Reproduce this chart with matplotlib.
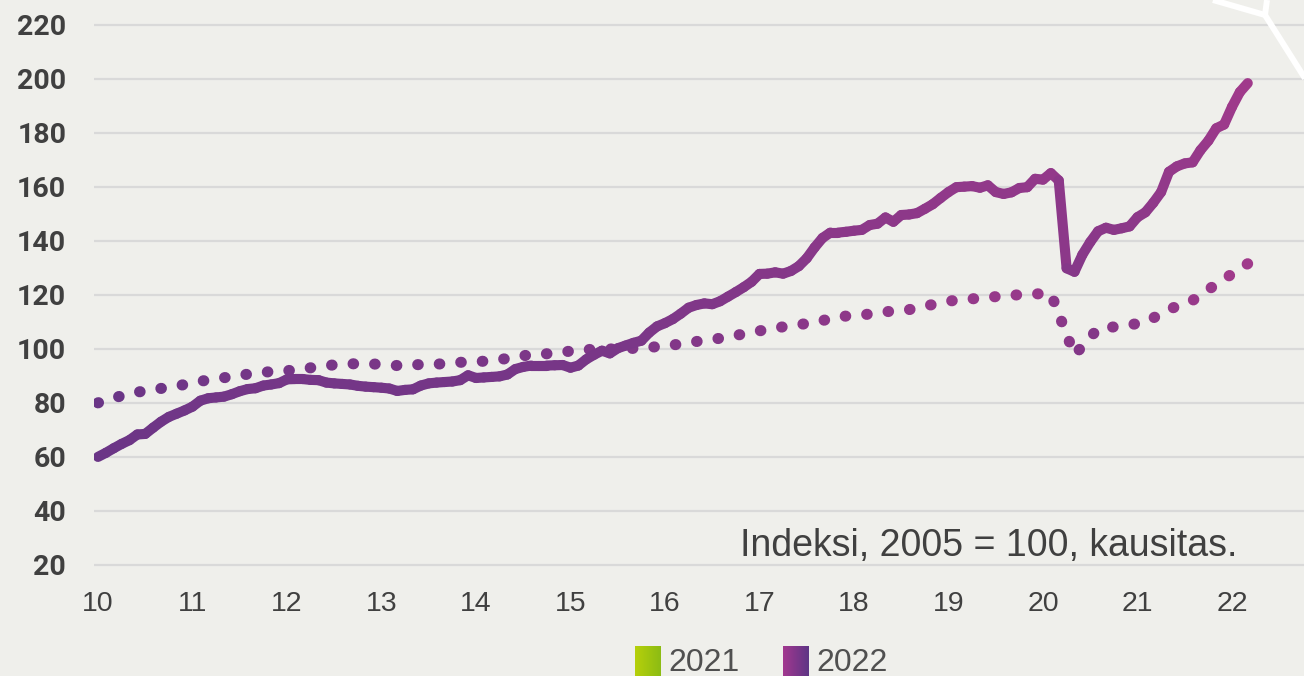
import numpy as np
import matplotlib.pyplot as plt
from matplotlib.collections import LineCollection
from matplotlib.colors import to_rgb
from matplotlib.lines import Line2D

# kuukausittainen indeksi (yhtenäinen viiva), tammikuu 2010 -> maaliskuu 2022
monthly_index = [
    60.0, 61.5, 63.2, 64.8, 66.2, 68.3, 68.5, 70.8, 73.0, 74.8, 76.0, 77.2,
    78.6, 80.8, 81.7, 82.0, 82.3, 83.2, 84.3, 85.1, 85.4, 86.4, 86.8, 87.3,
    88.7, 88.8, 88.8, 88.5, 88.4, 87.5, 87.2, 87.0, 86.8, 86.3, 86.0, 85.8,
    85.6, 85.3, 84.4, 84.8, 85.0, 86.4, 87.2, 87.5, 87.7, 87.9, 88.4, 90.2,
    89.2, 89.4, 89.6, 89.8, 90.5, 92.5, 93.3, 93.8, 93.8, 93.8, 93.9, 94.0,
    93.0, 93.8, 96.1, 97.8, 99.3, 98.3, 100.2, 101.2, 102.2, 103.0, 106.0, 108.3,
    109.5, 111.0, 113.0, 115.2, 116.2, 116.8, 116.5, 117.6, 119.3, 121.0, 122.8, 124.8,
    127.7, 127.8, 128.3, 127.8, 128.8, 130.6, 133.5, 137.5, 141.0, 143.0, 143.0, 143.3,
    143.7, 144.0, 145.8, 146.3, 148.6, 147.0, 149.5, 149.7, 150.2, 151.8, 153.5, 155.8,
    158.0, 159.8, 160.0, 160.2, 159.6, 160.5, 158.0, 157.3, 157.9, 159.5, 159.8, 162.9,
    162.6, 165.0, 162.3, 129.8, 128.5, 134.8, 139.5, 143.5, 144.8, 144.0, 144.6, 145.3,
    148.7, 150.5, 154.0, 158.0, 165.5, 167.5, 168.6, 169.0, 173.5, 177.0, 181.6, 183.0,
    189.5, 195.0, 198.3,
]

# neljännesvuosittainen indeksi (pisteviiva), kuukausi jolle arvo piirretään
quarter_month = [0] + [3 * q + 1 for q in range(1, 48)] + [146]
quarterly_index = [
    80.0, 83.5, 84.9, 86.2, 88.0, 89.3, 90.6, 91.6, 92.1, 93.4, 94.4, 94.5,
    94.1, 94.1, 94.3, 95.0, 95.4, 96.4, 97.9, 98.3, 99.6, 99.9, 100.0, 100.5,
    101.4, 102.7, 103.9, 105.5, 107.2, 108.6, 109.7, 111.9, 112.5, 113.7, 114.5, 116.4,
    118.1, 118.7, 119.6, 120.2, 120.5, 97.7, 107.5, 108.4, 109.8, 114.6, 117.9, 123.9,
    131.5,
]

year_ticks = list(range(10, 23))
y_ticks = list(range(20, 221, 20))
legend_labels = ["2021", "2022"]
note = "Indeksi, 2005 = 100, kausitas."

BG = "#efefeb"
TXT = "#404040"
LO = np.array(to_rgb("#6a3586"))
HI = np.array(to_rgb("#a03a8b"))

W, H, DPI = 1304, 676, 100
fig = plt.figure(figsize=(W / DPI, H / DPI), dpi=DPI, facecolor=BG)
ax = fig.add_axes([94 / W, 1 - 570.4 / H, (W - 94) / W, 551.3 / H])
ax.set_facecolor(BG)
ax.set_xlim(9.958, 22.762)
ax.set_ylim(18, 222)
for s in ax.spines.values():
    s.set_visible(False)
ax.set_yticks(y_ticks)
ax.grid(axis="y", color="#d9d9d9", lw=1.6)
ax.set_axisbelow(True)
ax.set_xticks(year_ticks)
ax.set_xticklabels([str(y) for y in year_ticks], family="Liberation Sans",
                   fontsize=20.5, color=TXT)
ax.set_yticklabels([str(v) for v in y_ticks], family="Roboto", fontweight="bold",
                   fontsize=20.5, color=TXT)
ax.tick_params(axis="x", length=0, pad=15)
ax.tick_params(axis="y", length=0, pad=20)


def grad_colors(vals):
    vals = np.asarray(vals)
    t = (vals - vals.min()) / (vals.max() - vals.min())
    return LO + (HI - LO) * t[:, None]


# pisteviiva liukuvärillä; viivatyylin vaihe jatkuu segmentistä toiseen
qx = 10 + np.array(quarter_month) / 12
qy = np.array(quarterly_index)
qpts = np.column_stack([qx, qy])
qsegs = np.stack([qpts[:-1], qpts[1:]], axis=1)
disp = ax.transData.transform(qpts)
seg_len = np.hypot(*np.diff(disp, axis=0).T) * 72 / DPI
start = np.concatenate([[0], np.cumsum(seg_len)[:-1]])
dot_lw = 8.0
styles = [(s / dot_lw, (0.05, 1.89)) for s in start]
qcol = grad_colors((qsegs[:, 0, 1] + qsegs[:, 1, 1]) / 2)
lc_dot = LineCollection(qsegs, colors=qcol, linewidths=dot_lw,
                        linestyles=styles, capstyle="round", zorder=3)
ax.add_collection(lc_dot)

# yhtenäinen viiva liukuvärillä
mx = 10 + np.arange(len(monthly_index)) / 12
my = np.array(monthly_index)
mpts = np.column_stack([mx, my])
msegs = np.stack([mpts[:-1], mpts[1:]], axis=1)
mcol = grad_colors((msegs[:, 0, 1] + msegs[:, 1, 1]) / 2)
lc = LineCollection(msegs, colors=mcol, linewidths=7.3, capstyle="round",
                    joinstyle="round", zorder=4)
ax.add_collection(lc)

ax.text(16.79, 23.3, note, family="Liberation Sans", fontsize=27, color=TXT,
        ha="left", va="baseline", zorder=5)

# selite: liukuväriset neliöt
leg_grads = [("#b6d00a", "#8cbc14"), ("#a2388f", "#5e3585")]
leg_x = [635, 783]
for (c1, c2), x0, lab in zip(leg_grads, leg_x, legend_labels):
    sq = fig.add_axes([x0 / W, 0, 26 / W, 30 / H])
    g = np.linspace(0, 1, 64)
    img = np.array(to_rgb(c1)) + (np.array(to_rgb(c2)) - np.array(to_rgb(c1))) * g[:, None]
    sq.imshow(img[None, :, :], aspect="auto", extent=(0, 1, 0, 1))
    sq.axis("off")
    fig.text((x0 + 33) / W, 1 - 648 / H, lab, family="Liberation Sans",
             fontsize=23, color="#505050", ha="left", va="top")

# koristeviivat oikeassa yläkulmassa
for xs, ys in [((1213, 1265), (0, 15)), ((1267, 1265), (0, 15)),
               ((1265, 1306), (15, 80))]:
    fig.add_artist(Line2D([x / W for x in xs], [1 - y / H for y in ys],
                          transform=fig.transFigure, color="white", lw=4.3,
                          solid_capstyle="butt", zorder=10))

fig.savefig("out.png", dpi=DPI, facecolor=BG)
